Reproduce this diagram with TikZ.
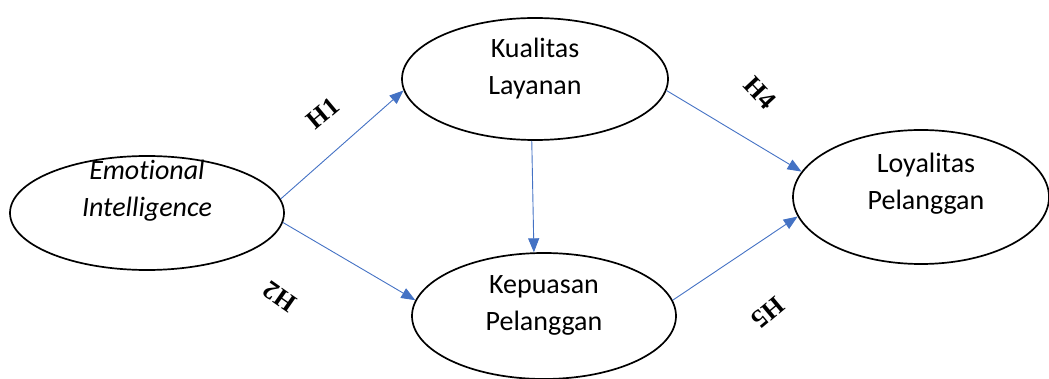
\documentclass[tikz,border=0pt]{standalone}
\usepackage{fontspec}
\setmainfont{Carlito}[Ligatures={NoCommon}]
\newfontfamily\hfont{Liberation Serif}
\usetikzlibrary{shapes.geometric,arrows.meta}
\definecolor{arrowblue}{HTML}{4472C4}
\tikzset{
  construct/.style={draw=black, line width=1.7pt, ellipse, inner sep=0pt},
  ctext/.style={align=center, font=\fontsize{28}{37}\selectfont, inner sep=0pt},
  link/.style={draw=arrowblue, line width=0.9pt, -{Triangle[length=14pt,width=11pt]}},
  hyp/.style={font=\hfont\bfseries\fontsize{26}{26}\selectfont, inner sep=0pt}
}
\begin{document}
\begin{tikzpicture}[x=1pt,y=-1pt]
\useasboundingbox (0,0) rectangle (1049,379);
\node[construct, minimum width=274pt, minimum height=114pt] (ei) at (147,213) {};
\node[construct, minimum width=266pt, minimum height=122pt] (kl) at (535,79) {};
\node[construct, minimum width=264pt, minimum height=126pt] (kp) at (544,316) {};
\node[construct, minimum width=256pt, minimum height=134pt] (lp) at (921,197) {};
\node[ctext] (eit) at (147,191) {\itshape Emotional\\\itshape Intelligence};
\node[ctext] (klt) at (535,69) {Kualitas\\Layanan};
\node[ctext] (kpt) at (544,305) {Kepuasan\\Pelanggan};
\node[ctext] (lpt) at (926,184) {Loyalitas\\Pelanggan};
\draw[link] (ei.6) -- (kl.185);
\draw[link] (ei.-4) -- (kp.173);
\draw[link] (kl.267) -- (kp.99);
\draw[link] (kl.-5) -- (lp.168);
\draw[link] (kp.7) -- (lp.189);
\node[hyp, rotate=40] (h1) at (323,113) {H1};
\node[hyp, rotate=145] (h2) at (280,297) {H2};
\node[hyp, rotate=-47] (h4) at (760,93) {H4};
\node[hyp, rotate=220] (h5) at (768,313) {H5};
\end{tikzpicture}
\end{document}
